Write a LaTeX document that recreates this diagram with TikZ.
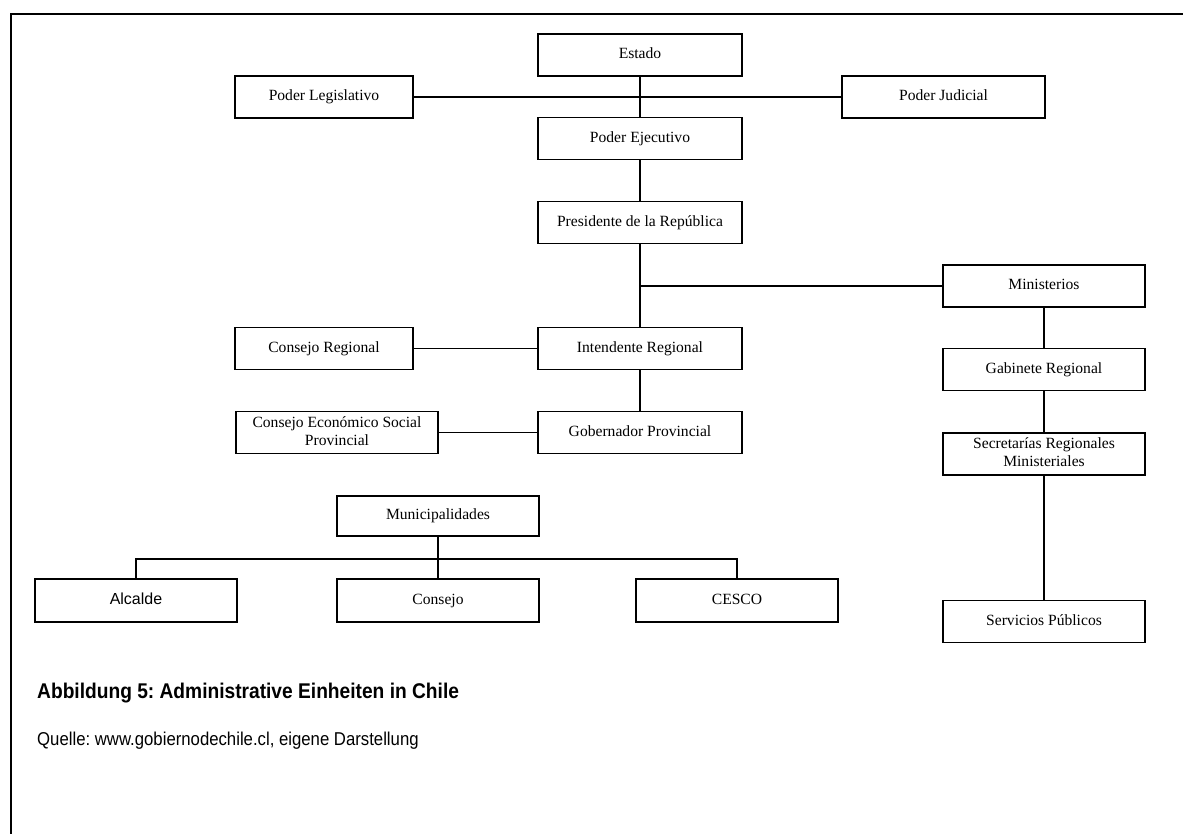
\documentclass[tikz,border=0pt]{standalone}
\usepackage{fontspec}
\setmainfont{Liberation Serif}
\newfontfamily\arialfont{Liberation Sans}
\usetikzlibrary{positioning}
\frenchspacing

\begin{document}
\begin{tikzpicture}[x=1pt,y=-1pt,
    unit/.style={draw,line width=1.8pt,minimum width=204pt,minimum height=42pt,
      inner sep=1pt,align=center,text height=11pt,text depth=3.5pt,
      font=\fontsize{15.6}{18}\selectfont},
    twoline/.style={text height=29pt},
    link/.style={line width=1.8pt}]
    \useasboundingbox (0,0) rectangle (1183,834);
    % frame (top and left edge only)
    \draw[link] (1183,14) -- (11,14) -- (11,834);
    % state and powers
    \node[unit] (estado) at (640,55) {Estado};
    \node[unit,minimum width=178pt] (legis) at (324,97) {Poder Legislativo};
    \node[unit,minimum width=203pt] (judicial) at (943.5,97) {Poder Judicial};
    \node[unit] (ejecutivo) at (640,138.5) {Poder Ejecutivo};
    \node[unit] (presidente) at (640,222.5) {Presidente de la República};
    % regional and provincial level
    \node[unit,minimum width=178pt] (cregional) at (324,348.5) {Consejo Regional};
    \node[unit] (intendente) at (640,348.5) {Intendente Regional};
    \node[unit,twoline,minimum width=202pt] (cesp) at (337,432.5) {Consejo Económico Social\\Provincial};
    \node[unit] (gobernador) at (640,432.5) {Gobernador Provincial};
    % ministries
    \node[unit,minimum width=202pt] (ministerios) at (1044,286) {Ministerios};
    \node[unit,minimum width=202pt] (gabinete) at (1044,369.5) {Gabinete Regional};
    \node[unit,twoline,minimum width=202pt] (secretarias) at (1044,454) {Secretarías Regionales\\Ministeriales};
    \node[unit,minimum width=202pt] (servicios) at (1044,621.5) {Servicios Públicos};
    % communal level
    \node[unit,minimum width=202pt,minimum height=40pt] (municipalidades) at (438,516) {Municipalidades};
    \node[unit,minimum width=202pt,minimum height=43pt,font=\arialfont\fontsize{16}{18}\selectfont] (alcalde) at (136,600.5) {Alcalde};
    \node[unit,minimum width=202pt,minimum height=43pt] (consejo) at (438,600.5) {Consejo};
    \node[unit,minimum width=202pt,minimum height=43pt] (cesco) at (737,600.5) {CESCO};
    \coordinate (bus) at (438,559);
    % connectors
    \draw[link] (estado) -- (ejecutivo);
    \draw[link] (legis) -- (judicial);
    \draw[link] (ejecutivo) -- (presidente);
    \draw[link] (presidente) -- (intendente);
    \draw[link] (presidente |- ministerios) -- (ministerios);
    \draw[link] (cregional) -- (intendente);
    \draw[link] (intendente) -- (gobernador);
    \draw[link] (cesp) -- (gobernador);
    \draw[link] (ministerios) -- (gabinete);
    \draw[link] (gabinete) -- (secretarias);
    \draw[link] (secretarias) -- (servicios);
    \draw[link] (municipalidades) -- (consejo);
    \draw[link] (alcalde) |- (bus) -| (cesco);
    % caption
    \node[anchor=west,inner sep=0pt,font=\arialfont\bfseries\fontsize{21.3}{23}\selectfont] (titel) at (37,693)
      {\scalebox{0.9}[1]{Abbildung 5: Administrative Einheiten in Chile}};
    \node[anchor=west,inner sep=0pt,font=\arialfont\fontsize{18.6}{20}\selectfont] (quelle) at (37,741)
      {\scalebox{0.9}[1]{Quelle: www.gobiernodechile.cl, eigene Darstellung}};
\end{tikzpicture}
\end{document}
